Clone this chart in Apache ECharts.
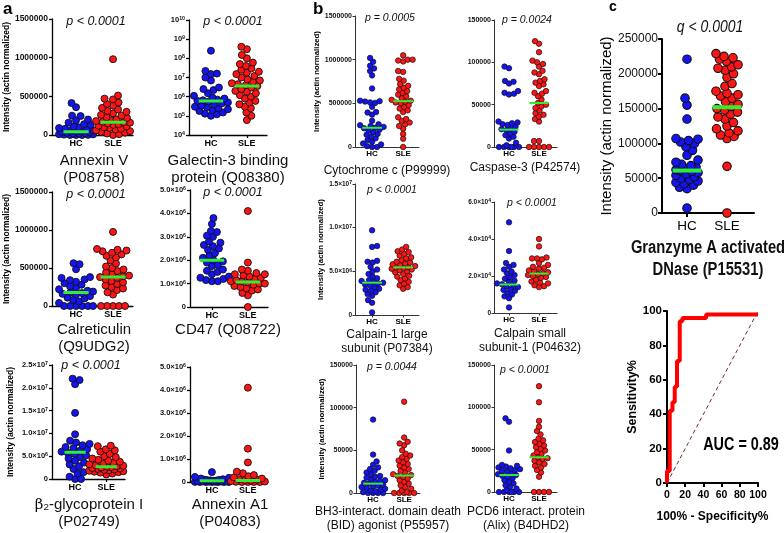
<!DOCTYPE html>
<html><head><meta charset="utf-8">
<script src="https://cdn.jsdelivr.net/npm/echarts@6/dist/echarts.min.js"></script>
<style>html,body{margin:0;padding:0;background:#fff}#c{width:784px;height:533px}</style>
</head><body><div id="c"></div>
<script>
// ---------- DATA ----------
const groups = ['HC', 'SLE'];

const annexinV_HC = [413000,360000,250000,245000,200000,190000,160000,140000,130000,110000,100000,90000,80000,70000,60000,55000,50000,45000,42000,38000,30000,25000,20000,15000,10000,8000,5000,2000,0,0,0];
const annexinV_SLE = [980000,510000,470000,460000,420000,400000,380000,350000,330000,310000,300000,280000,260000,250000,230000,220000,200000,190000,180000,170000,165000,160000,150000,140000,130000,120000,110000,100000,90000,80000,70000,60000,50000,40000,30000,20000,10000,0];
const annexinV_med = [43000, 165000];

const galectin_HC = [2.5e8,2.2e7,1.6e7,1.5e7,1.0e7,7e6,3e6,2.5e6,2.2e6,1.5e6,1.1e6,9e5,8e5,7e5,6.5e5,6e5,5.5e5,5e5,4.5e5,4e5,3.5e5,3e5,2.8e5,2.5e5,2.2e5,2e5,1.8e5,1.5e5,1.3e5,1.2e5,1e5];
const galectin_SLE = [4e8,3e8,1.5e8,1e8,6e7,5e7,4e7,3e7,2.5e7,2e7,1.8e7,1.5e7,1.2e7,1e7,8e6,7e6,6e6,5e6,4.5e6,4e6,3.6e6,3e6,2.5e6,2e6,1.8e6,1.5e6,1.2e6,1e6,8e5,6e5,5e5,4e5,3e5,2.5e5,1.5e5,1e5,6e4];
const galectin_med = [5.9e5, 3.6e6];

const calret_HC = [563000,550000,484000,380000,370000,350000,340000,320000,300000,280000,260000,240000,220000,200000,190000,180000,170000,160000,150000,130000,110000,100000,80000,60000,40000,0,0,0,0,0,0];
const calret_SLE = [975000,750000,740000,730000,720000,700000,680000,660000,640000,600000,560000,520000,500000,480000,460000,440000,420000,400000,390000,380000,370000,350000,330000,310000,290000,270000,250000,230000,210000,180000,150000,0,0,0,0,0];
const calret_med = [178000, 383000];

const cd47_HC = [3.8e6,3.55e6,3.25e6,3.2e6,3.05e6,3.0e6,2.8e6,2.75e6,2.65e6,2.6e6,2.5e6,2.45e6,2.3e6,2.2e6,2.1e6,2.0e6,1.95e6,1.9e6,1.8e6,1.75e6,1.6e6,1.55e6,1.5e6,1.4e6,1.3e6,1.25e6,1.2e6,1.15e6,1.1e6,1.1e6];
const cd47_SLE = [4.1e6,1.9e6,1.6e6,1.55e6,1.45e6,1.4e6,1.4e6,1.35e6,1.3e6,1.25e6,1.2e6,1.15e6,1.1e6,1.1e6,1.05e6,1.0e6,1.0e6,0.95e6,0.9e6,0.85e6,0.8e6,0.75e6,0.7e6,0.6e6,0.5e6,0];
const cd47_med = [2.0e6, 1.07e6];

const b2gp_HC = [2.2e7,2.17e7,2.08e7,1.45e7,9.8e6,8.4e6,8.0e6,7.7e6,7.4e6,7.0e6,6.8e6,6.5e6,6.2e6,6.0e6,5.8e6,5.5e6,5.2e6,4.8e6,4.5e6,4.0e6,3.6e6,3.2e6,2.8e6,2.2e6,1.5e6,1.2e6,0.5e6,0,0];
const b2gp_SLE = [7.3e6,7.2e6,6.5e6,6.3e6,6.0e6,5.5e6,5.0e6,4.8e6,4.5e6,4.2e6,4.0e6,3.8e6,3.6e6,3.4e6,3.2e6,3.0e6,2.9e6,2.8e6,2.7e6,2.6e6,2.5e6,2.4e6,2.3e6,2.2e6,2.1e6,2.0e6,1.9e6,1.8e6,1.7e6,1.6e6,1.5e6,1.4e6,1.2e6,1.0e6];
const b2gp_med = [5.85e6, 2.7e6];

const annexinA1_HC = [4.3e5,2.2e5,1.8e5,1.5e5,1.2e5,1e5,9e4,8e4,7e4,6e4,5e4,4e4,3e4,2.5e4,2e4,1.5e4,1e4,5e3,2e3,0,0,0,0,0];
const annexinA1_SLE = [4.1e6,1.45e6,8.5e5,4.5e5,3.8e5,3e5,2.5e5,2e5,1.5e5,1.2e5,1e5,8e4,6e4,4e4,2e4,1e4,0,0,0,0];
const annexinA1_med = [5e4, 6e4];

const cytc_HC = [1020000,975000,930000,900000,870000,820000,670000,530000,525000,520000,510000,505000,460000,400000,395000,370000,300000,260000,250000,240000,230000,220000,215000,200000,190000,170000,150000,140000,120000,100000,80000,60000,40000,30000,10000,0,0];
const cytc_SLE = [1050000,1000000,1000000,990000,980000,870000,860000,780000,760000,720000,700000,680000,660000,640000,620000,600000,580000,560000,540000,530000,520000,510000,500000,480000,460000,440000,420000,400000,340000,320000,300000,280000,260000,240000,210000,150000,95000,0];
const cytc_med = [220000, 525000];

const calp1_HC = [9.7e6,7.9e6,7.8e6,6.2e6,6.1e6,6.0e6,5.5e6,5.2e6,5.0e6,4.7e6,4.4e6,4.2e6,4.0e6,3.9e6,3.8e6,3.7e6,3.6e6,3.5e6,3.4e6,3.2e6,3.0e6,2.9e6,2.8e6,2.6e6,2.4e6,2.2e6,1.7e6,1.4e6,3e5];
const calp1_SLE = [7.8e6,7.5e6,7.3e6,7.2e6,7.0e6,6.8e6,6.6e6,6.5e6,6.3e6,6.1e6,6.0e6,5.9e6,5.8e6,5.7e6,5.6e6,5.5e6,5.45e6,5.4e6,5.3e6,5.2e6,5.1e6,5.0e6,4.9e6,4.7e6,4.5e6,4.4e6,4.2e6,4.0e6,3.8e6,3.6e6,3.4e6,3.2e6,3.0e6];
const calp1_med = [3.7e6, 5.45e6];

const bid_HC = [86000,45000,37000,33000,30000,28000,26000,24000,22000,20000,19000,18000,16000,15000,14000,13000,12000,11000,10000,9000,8000,7000,6000,5000,4000,3000,2000,1000,0,0,0,0];
const bid_SLE = [107000,65000,60000,58000,56000,50000,46000,44000,42000,40000,38000,36000,34000,32000,30000,28000,26000,24000,22000,21000,20000,19000,17000,15000,13000,11000,9000,7000,5000,3000,1000,0,0,0,0,0];
const bid_med = [11000, 20400];

const casp3_HC = [95000,93000,78000,77000,75000,66000,64000,63000,62000,30000,29000,28000,27000,26000,24000,22000,21000,20000,18000,16000,14000,12000,10000,5000,2000,0,0,0,0,0,0];
const casp3_SLE = [125000,122000,112000,102000,100000,98000,95000,90000,88000,86000,80000,78000,76000,74000,72000,66000,64000,63000,60000,56000,52000,50000,48000,46000,43000,40000,38000,36000,33000,30000,7000,7000,0,0,0,0,0];
const casp3_med = [20500, 52000];

const calps_HC = [4.9e4,3.35e4,2.7e4,2.6e4,2.5e4,2.35e4,2.25e4,2.15e4,2.05e4,1.95e4,1.85e4,1.75e4,1.7e4,1.6e4,1.55e4,1.5e4,1.45e4,1.4e4,1.3e4,1.25e4,1.2e4,1.1e4,1.0e4,0.9e4,0.8e4,0.3e4];
const calps_SLE = [4.0e4,3.6e4,3.0e4,2.95e4,2.95e4,2.9e4,2.7e4,2.6e4,2.5e4,2.45e4,2.4e4,2.3e4,2.25e4,2.2e4,2.15e4,2.1e4,2.05e4,2.0e4,1.95e4,1.9e4,1.8e4,1.7e4,1.65e4,1.6e4,1.5e4,1.45e4,1.4e4];
const calps_med = [1.54e4, 2.13e4];

const alix_HC = [87000,83000,49000,32000,31000,30000,29000,28000,27000,26000,25000,24000,22000,21000,20000,19000,18000,16000,14000,12000,10000,8000,6000,4000,2000,0,0,0,0,0,0];
const alix_SLE = [125000,106000,84000,77000,72000,68000,63000,61000,59000,57000,55000,53000,51000,49000,47000,45000,43000,41000,40000,39000,37000,35000,33000,31000,29000,26000,23000,18000,0,0,0,0];
const alix_med = [20000, 41000];

const gzma_HC = [221000,165000,155000,135000,107000,106000,104000,102000,100000,95000,90000,83000,76000,73000,70000,68000,66000,64000,62000,61000,60000,58000,56000,54000,52000,50000,48000,46000,44000,42000,40000,37000,35000,7000];
const gzma_SLE = [229000,225000,223000,221000,218000,213000,210000,208000,205000,200000,195000,186000,182000,175000,172000,170000,168000,165000,160000,156000,153000,150000,148000,145000,142000,138000,135000,130000,125000,121000,118000,115000,112000,110000,107000,67000,0];
const gzma_med = [61000, 152000];

const rocFPR  = [0,0,3,3,6,6,8.5,8.5,11,11,14,14,17,17,43,43,100];
const rocSens = [0,7,7,42,42,47,47,56,56,71,71,94,94,96,96,98,98];
const chanceLine = [0, 100];

// ---------- STYLE / LAYOUT ----------
const FONT = "'Liberation Sans', Arial, Helvetica, sans-serif";
const BLUE = '#1414f0', RED = '#ff1414', GREEN = '#2ef02e';
const NARROW_SCALE = 0.82;

const STYLE = {
  a: {sym:7, bw:0.9, axisW:1.3, axisC:'#000', tickF:8.5, sciF:7.5, xF:9, medW:3, half:0.34, spread:17, pF:12.5, nameF:8.5, nameGap:37, tickLen:3, xMargin:4, yMargin:4, xBold:'bold', tickBold:'bold', tF:15, tLH:17, tW:'normal', sx:1},
  b: {sym:5.5, bw:0.7, axisW:1, axisC:'#333', tickF:7, sciF:6.5, xF:8, medW:2, half:0.32, spread:12, pF:10.5, nameF:7.8, nameGap:23, tickLen:2.5, xMargin:3, yMargin:3, xBold:'bold', tickBold:'bold', tF:12, tLH:13.5, tW:'normal', sx:1},
  c: {sym:8.5, bw:1.1, axisW:2, axisC:'#000', tickF:12, sciF:12, xF:13.5, medW:4, half:0.36, spread:11, pF:17, nameF:15, nameGap:40, tickLen:4, xMargin:6, yMargin:4, xBold:'normal', tickBold:'normal', tF:18, tLH:22, tW:'bold', sx:NARROW_SCALE}
};

const PLOTS = [
  {panel:'a', hc:annexinV_HC, sle:annexinV_SLE, med:annexinV_med, grid:[52,19,81,116], y:[0,1500000,500000], fmt:'plain', x:[0.35,2.54], yname:true, p:'p < 0.0001', pPos:[96,22], title:['Annexin V','(P08758)'], tPos:[94,161]},
  {panel:'a', hc:galectin_HC, sle:galectin_SLE, med:galectin_med, grid:[189,20,78,115], y:[1e4,1e10,1], fmt:'log', x:[0.39,2.56], p:'p < 0.0001', pPos:[233,22], title:['Galectin-3 binding','protein (Q08380)'], tPos:[228,161]},
  {panel:'a', hc:calret_HC, sle:calret_SLE, med:calret_med, grid:[52,192,81,114], y:[0,1500000,500000], fmt:'plain', x:[0.35,2.54], yname:true, p:'p < 0.0001', pPos:[96,195], title:['Calreticulin','(Q9UDG2)'], tPos:[94,330]},
  {panel:'a', hc:cd47_HC, sle:cd47_SLE, med:cd47_med, grid:[190,190,78,117], y:[0,5e6,1e6], fmt:'sci', x:[0.39,2.56], p:'p < 0.0001', pPos:[233,193], title:['CD47 (Q08722)'], tPos:[228,330]},
  {panel:'a', hc:b2gp_HC, sle:b2gp_SLE, med:b2gp_med, grid:[52,365,73,114], y:[0,2.5e7,5e6], fmt:'sci', x:[0.26,2.6], yname:true, p:'p < 0.0001', pPos:[91,366], title:['{g|β}{sub|2}-glycoprotein I','(P02749)'], tPos:[89,505]},
  {panel:'a', hc:annexinA1_HC, sle:annexinA1_SLE, med:annexinA1_med, grid:[190,367,78,115], y:[0,5e6,1e6], fmt:'sci', x:[0.39,2.56], p:null, title:['Annexin A1','(P04083)'], tPos:[230,505]},
  {panel:'b', hc:cytc_HC, sle:cytc_SLE, med:cytc_med, grid:[355,16,64,131], y:[0,1500000,500000], fmt:'plain', x:[0.45,2.51], yname:true, p:'p = 0.0005', pPos:[390,18], title:['Cytochrome c (P99999)'], tPos:[387,171]},
  {panel:'b', hc:calp1_HC, sle:calp1_SLE, med:calp1_med, grid:[355,184,64,131], y:[0,1.5e7,5e6], fmt:'sci', x:[0.45,2.51], yname:true, p:'p < 0.0001', pPos:[392,190], title:['Calpain-1 large','subunit (P07384)'], tPos:[387,335]},
  {panel:'b', hc:bid_HC, sle:bid_SLE, med:bid_med, grid:[356,365,64,128], y:[0,150000,50000], fmt:'plain', x:[0.45,2.51], yname:true, p:'p = 0.0044', pPos:[392,367], title:['BH3-interact. domain death','(BID) agonist (P55957)'], tPos:[388,512]},
  {panel:'b', hc:casp3_HC, sle:casp3_SLE, med:casp3_med, grid:[494,20,63,127], y:[0,150000,50000], fmt:'plain', x:[0.5,2.6], p:'p = 0.0024', pPos:[527,20], title:['Caspase-3 (P42574)'], tPos:[525,168]},
  {panel:'b', hc:calps_HC, sle:calps_SLE, med:calps_med, grid:[494,202,63,111], y:[0,6e4,2e4], fmt:'sci', x:[0.5,2.6], p:'p < 0.0001', pPos:[532,203], title:['Calpain small','subunit-1 (P04632)'], tPos:[530,334]},
  {panel:'b', hc:alix_HC, sle:alix_SLE, med:alix_med, grid:[494,365,63,127], y:[0,150000,50000], fmt:'plain', x:[0.5,2.6], p:'p < 0.0001', pPos:[525,370], title:['PCD6 interact. protein','(Alix) (B4DHD2)'], tPos:[526,512]},
  {panel:'c', hc:gzma_HC, sle:gzma_SLE, med:gzma_med, grid:[662,39,92,174], y:[0,250000,50000], fmt:'plain', x:[0.375,2.675], yname:true, p:'q < 0.0001', pPos:[710,27], title:['Granzyme A activated','DNase (P15531)'], tPos:[708,248]}
];

// ---------- HELPERS ----------
function yFormatter(pl) {
  if (pl.fmt === 'log') return v => '10{s|' + Math.round(Math.log10(v)) + '}';
  if (pl.fmt === 'sci') return v => {
    if (v === 0) return '0';
    const e = Math.floor(Math.log10(v) + 1e-9);
    return (v / Math.pow(10, e)).toFixed(1) + '×10{s|' + e + '}';
  };
  return v => String(v);
}

// beeswarm placement computed from values (pixel space); returns x offsets in px
function swarm(vals, pl, S) {
  const H = pl.grid[3];
  const toPx = pl.fmt === 'log'
    ? v => H * (Math.log10(v) - Math.log10(pl.y[0])) / (Math.log10(pl.y[1]) - Math.log10(pl.y[0]))
    : v => H * (v - pl.y[0]) / (pl.y[1] - pl.y[0]);
  const pts = vals.map(v => ({v, y: toPx(v)})).sort((a, b) => a.y - b.y);
  const placed = [];
  const minD = S.sym * 0.85;
  const steps = Math.ceil(S.spread / 0.5);
  pts.forEach((p, j) => {
    const sgn = j % 2 ? 1 : -1;
    let best = 0, bestScore = -1;
    for (let k = 0; k <= 2 * steps; k++) {
      const off = (k % 2 ? sgn : -sgn) * Math.ceil(k / 2) * 0.5;
      let mind = Infinity;
      for (const q of placed) {
        const dd = Math.hypot(q.x - off, q.y - p.y);
        if (dd < mind) mind = dd;
      }
      if (mind >= minD) { best = off; break; }
      if (mind > bestScore) { bestScore = mind; best = off; }
    }
    p.x = best;
    placed.push(p);
  });
  return pts;
}

const grids = [], xAxes = [], yAxes = [], series = [], graphics = [];

PLOTS.forEach((pl, i) => {
  const S = STYLE[pl.panel];
  const [gl, gt, gw, gh] = pl.grid;
  grids.push({left: gl, top: gt, width: gw, height: gh, containLabel: false, outerBoundsMode: 'none'});
  const axisLine = {show: true, onZero: false, lineStyle: {color: S.axisC, width: S.axisW}};
  xAxes.push({
    gridIndex: i, type: 'value', min: pl.x[0], max: pl.x[1],
    axisLine, splitLine: {show: false},
    axisTick: {show: true, customValues: [1, 2], length: S.tickLen, lineStyle: {color: S.axisC, width: S.axisW}},
    axisLabel: {show: true, customValues: [1, 2], formatter: v => groups[Math.round(v) - 1], margin: S.xMargin,
      fontSize: S.xF, fontWeight: S.xBold, fontFamily: FONT, color: '#000'}
  });
  const isLog = pl.fmt === 'log';
  const isSci = pl.fmt === 'sci' || isLog;
  const yf = isSci ? S.sciF : S.tickF;
  const y = {
    gridIndex: i, type: isLog ? 'log' : 'value', min: pl.y[0], max: pl.y[1], interval: pl.y[2],
    axisLine, splitLine: {show: false},
    axisTick: {show: true, length: S.tickLen, lineStyle: {color: S.axisC, width: S.axisW}},
    axisLabel: {formatter: yFormatter(pl), margin: S.yMargin, fontSize: yf, fontWeight: S.tickBold, fontFamily: FONT, color: '#111',
      rich: {s: {fontSize: Math.max(5, yf * 0.7), verticalAlign: 'top', fontWeight: S.tickBold, fontFamily: FONT, color: '#111', lineHeight: yf * 0.7}}}
  };
  if (isLog) y.logBase = 10;
  if (pl.yname) {
    Object.assign(y, {name: 'Intensity (actin normalized)', nameLocation: 'middle', nameRotate: 90, nameGap: S.nameGap,
      nameTextStyle: {fontSize: S.nameF, fontWeight: pl.panel === 'c' ? 'normal' : 'bold', fontFamily: FONT, color: '#000'}});
  }
  yAxes.push(y);

  const unitPx = gw / (pl.x[1] - pl.x[0]);
  [[pl.hc, BLUE, 1], [pl.sle, RED, 2]].forEach(([vals, col, cat]) => {
    const pts = swarm(vals, pl, S);
    series.push({
      type: 'scatter', xAxisIndex: i, yAxisIndex: i, clip: false, symbol: 'circle', symbolSize: S.sym,
      itemStyle: {color: col, borderColor: '#111', borderWidth: S.bw, opacity: 1},
      data: pts.map(p => [cat + p.x / unitPx, p.v]), z: 3, silent: true
    });
  });
  pl.med.forEach((m, k) => {
    series.push({
      type: 'line', xAxisIndex: i, yAxisIndex: i, clip: false, symbol: 'none', silent: true, z: 4,
      lineStyle: {color: GREEN, width: S.medW},
      data: [[k + 1 - S.half, m], [k + 1 + S.half, m]]
    });
  });

  if (pl.p) {
    graphics.push({type: 'text', x: pl.pPos[0], y: pl.pPos[1], z: 10, scaleX: S.sx,
      style: {text: pl.p, align: 'center', verticalAlign: 'middle', fontSize: S.pF, fontStyle: 'italic', fontFamily: FONT, fill: '#111'}});
  }
  pl.title.forEach((t, k) => {
    graphics.push({type: 'text', x: pl.tPos[0], y: pl.tPos[1] + k * S.tLH, z: 10, scaleX: S.sx,
      style: {text: t, align: 'center', verticalAlign: 'middle', fontSize: S.tF, fontWeight: S.tW,
        fontFamily: FONT, fill: '#111',
        rich: {g: {fontSize: S.tF, fontFamily: "'DejaVu Serif', serif", fill: '#111'}, sub: {fontSize: S.tF * 0.65, verticalAlign: 'bottom', fontFamily: FONT, fill: '#111'}}}});
  });
});

// ROC grid
const ri = PLOTS.length;
grids.push({left: 667, top: 311, width: 91, height: 172, containLabel: false, outerBoundsMode: 'none'});
const rocAxisLine = {show: true, onZero: false, lineStyle: {color: '#000', width: 2}};
xAxes.push({gridIndex: ri, type: 'value', min: 0, max: 100, interval: 20, axisLine: rocAxisLine, splitLine: {show: false},
  axisTick: {show: true, length: 4, lineStyle: {color: '#000', width: 2}},
  axisLabel: {margin: 7, fontSize: 10.5, fontWeight: 'bold', fontFamily: FONT, color: '#000', formatter: v => String(v)},
  name: '100% - Specificity%', nameLocation: 'middle', nameGap: 28, nameTextStyle: {fontSize: 12, fontWeight: 'bold', fontFamily: FONT, color: '#000'}});
yAxes.push({gridIndex: ri, type: 'value', min: 0, max: 100, interval: 20, axisLine: rocAxisLine, splitLine: {show: false},
  axisTick: {show: true, length: 4, lineStyle: {color: '#000', width: 2}},
  axisLabel: {margin: 5, fontSize: 11.5, fontWeight: 'bold', fontFamily: FONT, color: '#000', formatter: v => String(v)},
  name: 'Sensitivity%', nameLocation: 'middle', nameRotate: 90, nameGap: 25, nameTextStyle: {fontSize: 12.5, fontWeight: 'bold', fontFamily: FONT, color: '#000'}});
series.push({type: 'line', xAxisIndex: ri, yAxisIndex: ri, symbol: 'none', clip: false, silent: true, z: 2,
  lineStyle: {color: '#7a2a2a', width: 1, type: [4, 3]}, data: chanceLine.map(v => [v, v])});
series.push({type: 'line', xAxisIndex: ri, yAxisIndex: ri, symbol: 'none', clip: false, silent: true, z: 3,
  lineStyle: {color: '#ff0000', width: 4}, data: rocFPR.map((x, k) => [x, rocSens[k]])});
graphics.push({type: 'text', x: 741, y: 445, z: 10, scaleX: 0.8, style: {text: 'AUC = 0.89', align: 'center', verticalAlign: 'middle', fontSize: 18, fontWeight: 'bold', fontFamily: FONT, fill: '#000'}});

// panel letters
[['a', 3, 1, 17], ['b', 313, 1, 17], ['c', 609, 0, 14]].forEach(([t, x, y, f]) => {
  graphics.push({type: 'text', x, y, z: 10, style: {text: t, align: 'left', verticalAlign: 'top', fontSize: f, fontWeight: 'bold', fontFamily: FONT, fill: '#000'}});
});

const chart = echarts.init(document.getElementById('c'), null, {renderer: 'canvas'});
chart.setOption({
  animation: false, backgroundColor: '#fff',
  grid: grids, xAxis: xAxes, yAxis: yAxes, series, graphic: graphics
});
</script>
</body></html>
